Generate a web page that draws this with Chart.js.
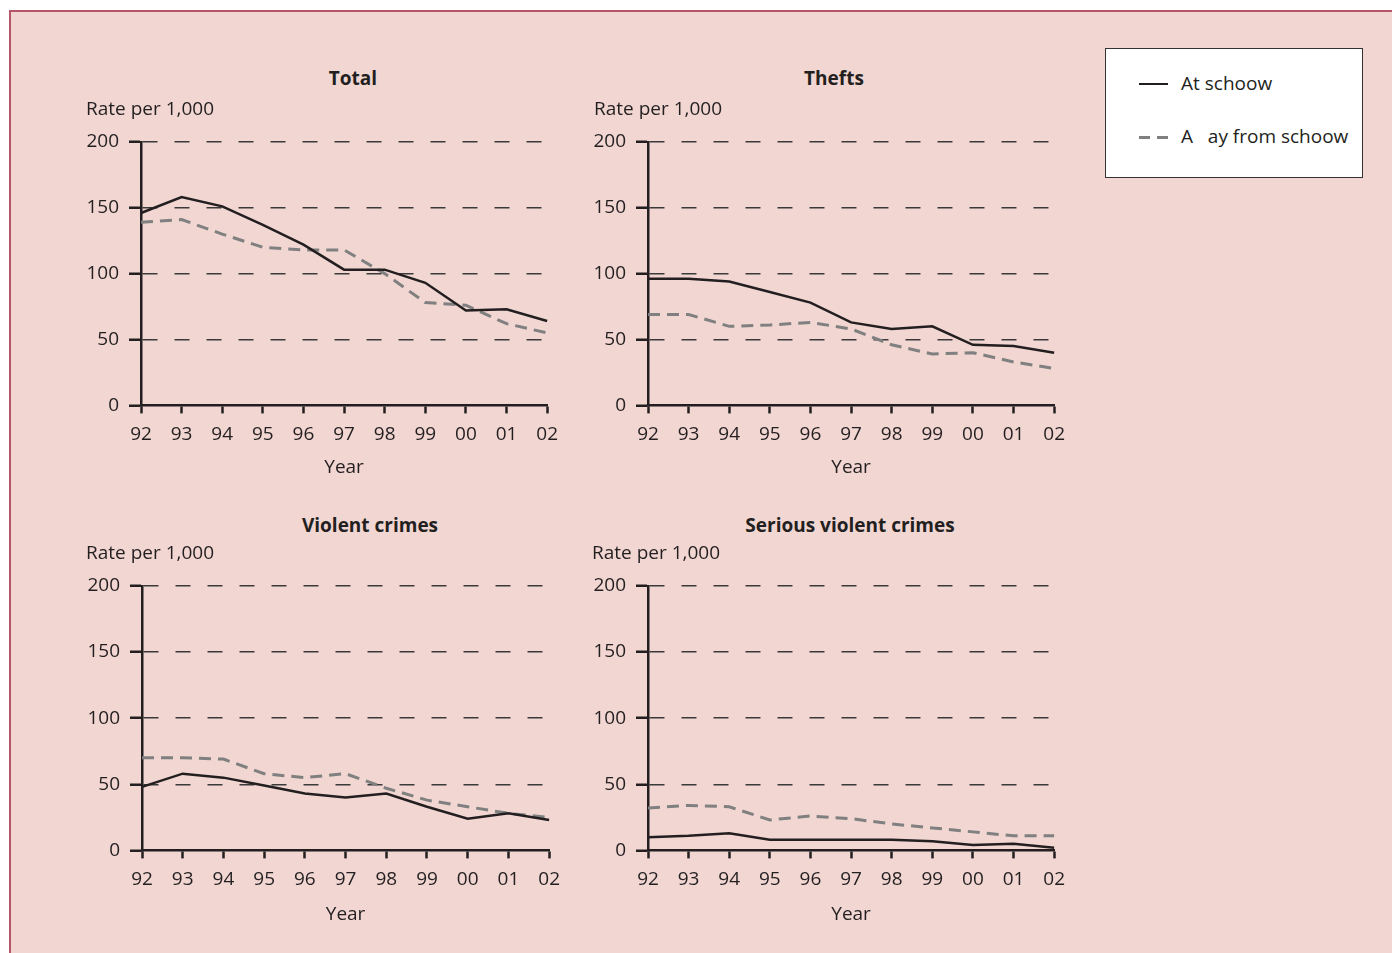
<!DOCTYPE html>
<html>
<head>
<meta charset="utf-8">
<script src="https://cdn.jsdelivr.net/npm/chart.js@4"></script>
<style>
  body { margin: 0; background: #fff; font-family: 'Open Sans', sans-serif; color: #231f20; overflow: hidden; }
  #page {
    position: absolute; left: 9px; top: 10px; width: 1383px; height: 943px;
    background: #f1d6d2; border-top: 2px solid #b5576a; border-left: 2px solid #b5576a;
  }
  canvas { position: absolute; }
  .title {
    position: absolute; width: 400px; text-align: center;
    font-weight: bold; font-size: 19px; line-height: 24px;
  }
  #legend {
    position: absolute; left: 1105px; top: 48px; width: 256px; height: 128px;
    background: #fff; border: 1.5px solid #333;
  }
  .lg { position: absolute; font-size: 19px; line-height: 24px; white-space: pre; }
  .sw { position: absolute; height: 0; }
</style>
</head>
<body>
<div id="page"></div>
<div class="title" style="left:153px;top:66px">Total</div>
<div class="title" style="left:634px;top:66px">Thefts</div>
<div class="title" style="left:170px;top:513px">Violent crimes</div>
<div class="title" style="left:650px;top:513px">Serious violent crimes</div>

<canvas id="c1" width="488" height="393" style="left:80px;top:90px"></canvas>
<canvas id="c2" width="487" height="393" style="left:588px;top:90px"></canvas>
<canvas id="c3" width="490" height="396" style="left:80px;top:534px"></canvas>
<canvas id="c4" width="489" height="396" style="left:586px;top:534px"></canvas>

<div id="legend">
  <div class="sw" style="left:33px;top:34px;width:29px;border-top:2.5px solid #231f20"></div>
  <div class="lg" style="left:75px;top:22px">At schoow</div>
  <div class="sw" style="left:33px;top:87px;width:11px;border-top:3px solid #808080"></div>
  <div class="sw" style="left:51px;top:87px;width:11px;border-top:3px solid #808080"></div>
  <div class="lg" style="left:75px;top:75px">A   ay from schoow</div>
</div>

<script>
const years = ['92', '93', '94', '95', '96', '97', '98', '99', '00', '01', '02'];
const yTicks = [0, 50, 100, 150, 200];

const totalAtSchool = [146, 158, 151, 137, 122, 103, 103, 93, 72, 73, 64];
const totalAway = [139, 141, 130, 120, 118, 118, 100, 78, 76, 62, 55];
const theftsAtSchool = [96, 96, 94, 86, 78, 63, 58, 60, 46, 45, 40];
const theftsAway = [69, 69, 60, 61, 63, 58, 46, 39, 40, 33, 28];
const violentAtSchool = [48, 58, 55, 49, 43, 40, 43, 33, 24, 28, 23];
const violentAway = [70, 70, 69, 58, 55, 58, 47, 38, 33, 28, 25];
const seriousAtSchool = [10, 11, 13, 8, 8, 8, 8, 7, 4, 5, 2];
const seriousAway = [32, 34, 33, 23, 26, 24, 20, 17, 14, 11, 11];

Chart.defaults.font.family = "'Open Sans', sans-serif";
Chart.defaults.font.size = 19;
Chart.defaults.color = "#231f20";

const ink = "#231f20";

function makeChart(id, atSchool, away, yAxisWidth, yearPad) {
  new Chart(document.getElementById(id), {
    type: "line",
    data: {
      labels: years,
      datasets: [
        {
          label: "At schoow",
          data: atSchool,
          borderColor: ink,
          borderWidth: 2.5,
          pointRadius: 0,
          tension: 0,
        },
        {
          label: "A   ay from schoow",
          data: away,
          borderColor: "#808080",
          borderWidth: 3,
          borderDash: [12, 7],
          pointRadius: 0,
          tension: 0,
        },
      ],
    },
    options: {
      responsive: false,
      animation: false,
      devicePixelRatio: 1,
      layout: { padding: { left: 6, right: 20, top: 8, bottom: 4 } },
      plugins: {
        legend: { display: false },
        tooltip: { enabled: false },
        title: {
          display: true,
          text: "Rate per 1,000",
          align: "start",
          font: { size: 19, weight: "normal" },
          padding: { top: 0, bottom: 21 },
        },
      },
      scales: {
        x: {
          offset: false,
          grid: {
            drawOnChartArea: false,
            drawTicks: true,
            tickLength: 8,
            tickColor: ink,
            tickWidth: 2.5,
          },
          border: { display: true, color: ink, width: 2.5, z: 1 },
          ticks: { padding: 10, maxRotation: 0, autoSkip: false },
          title: { display: true, text: "Year", padding: { top: yearPad, bottom: 0 } },
        },
        y: {
          min: 0,
          max: 200,
          afterBuildTicks: (s) => { s.ticks = yTicks.map((v) => ({ value: v })); },
          afterFit: (s) => { s.width = yAxisWidth; },
          grid: {
            color: (c) => (c.tick && c.tick.value === 0 ? "rgba(0,0,0,0)" : "#3a3a3a"),
            lineWidth: 1.5,
            tickLength: 12,
            tickColor: ink,
            tickWidth: 2.5,
            tickBorderDash: [],
          },
          border: { display: true, color: ink, width: 2.5, dash: [15, 17] },
          ticks: { padding: 10 },
        },
      },
    },
  });
}

makeChart("c1", totalAtSchool, totalAway, 55, 0);
makeChart("c2", theftsAtSchool, theftsAway, 54, 0);
makeChart("c3", violentAtSchool, violentAway, 56, 2);
makeChart("c4", seriousAtSchool, seriousAway, 56, 2);
</script>
</body>
</html>
